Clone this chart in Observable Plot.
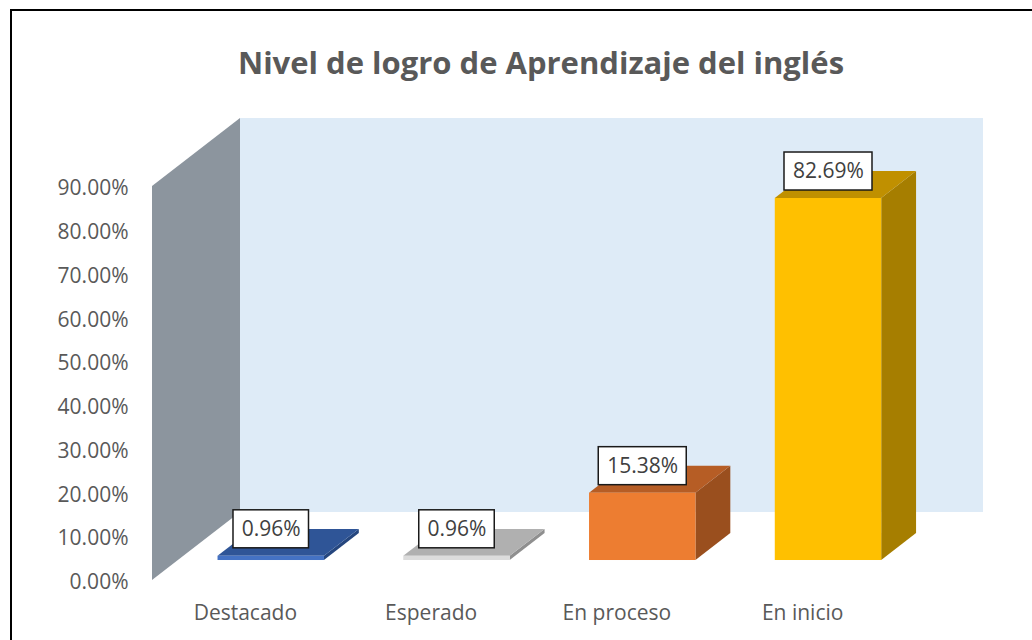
<!DOCTYPE html>
<html>
<head>
<meta charset="utf-8">
<script src="https://cdn.jsdelivr.net/npm/d3@7"></script>
<script src="https://cdn.jsdelivr.net/npm/@observablehq/plot@0.6"></script>
<style>
  html, body { margin: 0; padding: 0; background: #fff; overflow: hidden; }
  #wrap { position: relative; width: 1032px; height: 640px; }
  #border { position: absolute; left: 10px; top: 9px; width: 1040px; height: 660px; border: 2px solid #000; box-sizing: border-box; pointer-events: none; }
  #chart { position: absolute; left: 0; top: 0; }
</style>
</head>
<body>
<div id="wrap">
  <div id="chart"></div>
  <div id="border"></div>
</div>
<script>
// ---- data ----
const title = "Nivel de logro de Aprendizaje del inglés";
const categories = ["Destacado", "Esperado", "En proceso", "En inicio"];
const values = [0.96, 0.96, 15.38, 82.69];
const valueLabels = ["0.96%", "0.96%", "15.38%", "82.69%"];
const yTicks = [0, 10, 20, 30, 40, 50, 60, 70, 80, 90];
const frontColors = ["#4472C4", "#DCDCDC", "#ED7D31", "#FFC000"];
const topColors = ["#2F5597", "#B0B0B0", "#B65D25", "#C09000"];
const sideColors = ["#25467E", "#8F8F8F", "#9A4F1E", "#A67E00"];

// ---- 3D geometry (data units) ----
const W = 1032, H = 640;
const mL = 152, mR = 137, mT = 186, mB = 60;
const pxPerX = (W - mL - mR) / 4;     // pixels per category unit
const pxPerY = (H - mT - mB) / 90;    // pixels per percent
const DX = 88 / pxPerX, DY = 68 / pxPerY;   // full floor depth
const F0 = 0.294, F1 = 0.69;                 // bar depth (front, back)
const HALF = 0.2865;                          // half bar width

const bars = categories.map((c, i) => ({ i, c, v: values[i], label: valueLabels[i] }));

const fronts = bars.map(d => ({
  i: d.i,
  x1: d.i + 0.5 - HALF + F0 * DX, x2: d.i + 0.5 + HALF + F0 * DX,
  y1: F0 * DY, y2: d.v + F0 * DY
}));
const tops = bars.flatMap(d => [F0, F1].map(f => ({
  i: d.i, y: d.v + f * DY,
  x1: d.i + 0.5 - HALF + f * DX, x2: d.i + 0.5 + HALF + f * DX
})));
const sides = bars.flatMap(d => [F0, F1].map(f => ({
  i: d.i, x: d.i + 0.5 + HALF + f * DX,
  y1: f * DY, y2: d.v + f * DY
})));
const boxes = bars.map(d => {
  const cx = d.i + 0.5 + F0 * DX;
  const w = (12.5 * d.label.length + 13) / pxPerX;
  const yb = d.v + F0 * DY + 8 / pxPerY;
  const h = 38 / pxPerY;
  return { i: d.i, label: d.label, cx, x1: cx - w / 2, x2: cx + w / 2, y1: yb, y2: yb + h, ym: yb + h / 2 };
});
const leftWall = [{ x: 0, y1: 0, y2: 90 }, { x: DX, y1: DY, y2: 90 + DY }];
const backWall = [{ x1: DX, x2: 4 + DX, y1: DY, y2: 90 + DY }];

const chart = Plot.plot({
  width: W, height: H,
  marginLeft: mL, marginRight: mR, marginTop: mT, marginBottom: mB,
  x: { domain: [0, 4], axis: null },
  y: { domain: [0, 90], axis: null },
  color: { type: "identity" },
  style: { fontFamily: "'Open Sans', sans-serif", fontSize: "21px", color: "#595959", background: "transparent" },
  marks: [
    Plot.areaY(leftWall, { x: "x", y1: "y1", y2: "y2", fill: "#8C959E" }),
    Plot.rect(backWall, { x1: "x1", x2: "x2", y1: "y1", y2: "y2", fill: "#DEEBF7" }),
    Plot.axisY(yTicks, { tickSize: 0, tickPadding: 24, label: null, fontSize: 21, dy: 2, tickFormat: d => d.toFixed(2) + "%", fill: "#595959" }),
    Plot.axisX([0.5, 1.5, 2.5, 3.5], { tickSize: 0, tickPadding: 25, label: null, fontSize: 21, tickFormat: d => categories[Math.floor(d)], fill: "#595959" }),
    Plot.areaY(sides, { x: "x", y1: "y1", y2: "y2", z: "i", fill: d => sideColors[d.i] }),
    Plot.areaX(tops, { y: "y", x1: "x1", x2: "x2", z: "i", fill: d => topColors[d.i] }),
    Plot.rect(fronts, { x1: "x1", x2: "x2", y1: "y1", y2: "y2", fill: d => frontColors[d.i] }),
    Plot.rect(boxes, { x1: "x1", x2: "x2", y1: "y1", y2: "y2", fill: "#fff", stroke: "#1a1a1a", strokeWidth: 1.5 }),
    Plot.text(boxes, { x: "cx", y: "ym", text: "label", fontSize: 21, fill: "#404040", textAnchor: "middle", lineAnchor: "middle" }),
    Plot.text([title], { text: d => d, frameAnchor: "top", dx: 17, dy: -122, fontSize: 31, fontWeight: "bold", fill: "#595959", lineAnchor: "middle" })
  ]
});
document.getElementById("chart").appendChild(chart);
</script>
</body>
</html>
